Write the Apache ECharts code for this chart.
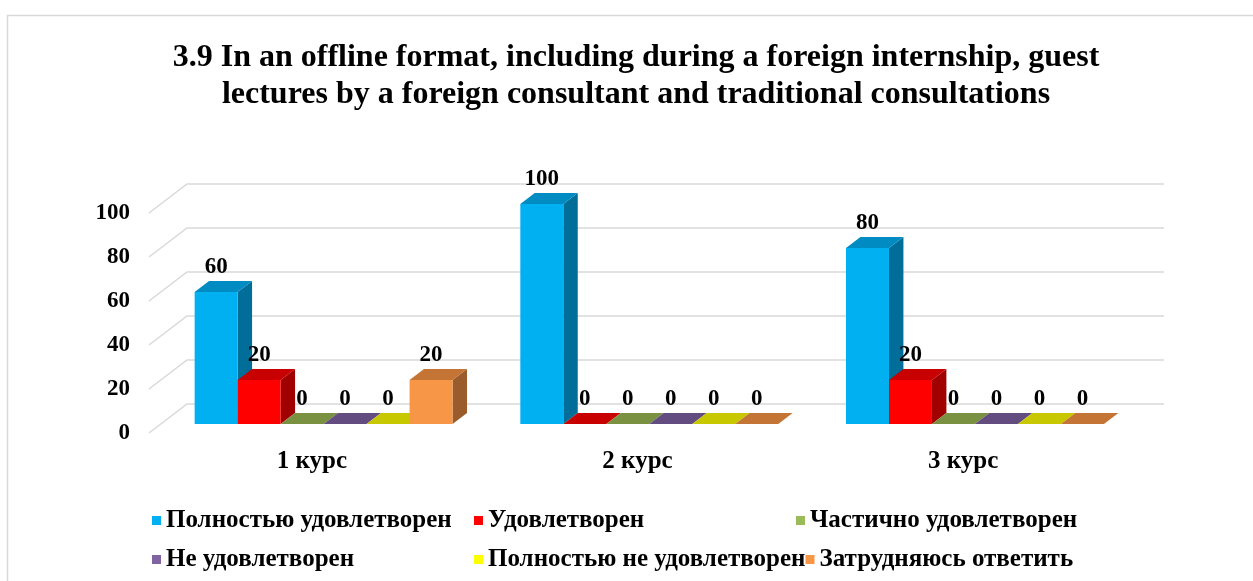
<!DOCTYPE html>
<html>
<head>
<meta charset="utf-8">
<script src="https://cdn.jsdelivr.net/npm/echarts@6/dist/echarts.min.js"></script>
<style>
  html, body { margin: 0; padding: 0; background: #fff; }
  #chart { width: 1253px; height: 581px; }
</style>
</head>
<body>
<div id="chart"></div>
<script>
const categories = ['1 курс', '2 курс', '3 курс'];
const yTicks = [0, 20, 40, 60, 80, 100];

const seriesNames = [
  'Полностью удовлетворен',
  'Удовлетворен',
  'Частично удовлетворен',
  'Не удовлетворен',
  'Полностью не удовлетворен',
  'Затрудняюсь ответить'
];
const fullySatisfied = [60, 100, 80];
const satisfied = [20, 0, 20];
const partlySatisfied = [0, 0, 0];
const notSatisfied = [0, 0, 0];
const fullyNotSatisfied = [0, 0, 0];
const hardToSay = [20, 0, 0];
const seriesValues = [fullySatisfied, satisfied, partlySatisfied, notSatisfied, fullyNotSatisfied, hardToSay];

const frontColors = ['#00B0F0', '#FF0000', '#9BBB59', '#8064A2', '#FFFF00', '#F79646'];
const topColors = ['#008BC2', '#C80000', '#7A9142', '#624C80', '#C8C800', '#C47434'];
const sideColors = ['#006E98', '#A00000', '#5E7033', '#4A3A62', '#9A9A00', '#9A5C2A'];

// depth of the 3d floor (back wall offset) and bar placement inside it
const DX = 38, DY = -29;
const FRONT = 0.31, DEPTH = 0.38;
const BAR_FRAC = 0.132;
const SERIF = '"Liberation Serif", "Times New Roman", serif';
const LABEL_FONT = 'bold 23px ' + SERIF;
const TITLE = '3.9 In an offline format, including during a foreign internship, guest\nlectures by a foreign consultant and traditional consultations';

const chart = echarts.init(document.getElementById('chart'));

function renderWalls(params, api) {
  const cs = params.coordSys;
  const y = api.coord([0, api.value(1)])[1];
  return {
    type: 'polyline',
    silent: true,
    shape: { points: [[cs.x, y], [cs.x + DX, y + DY], [cs.x + cs.width + DX, y + DY]] },
    style: { stroke: '#D9D9D9', lineWidth: 1.5, fill: null }
  };
}

function makeBarRenderer(idx) {
  return function (params, api) {
    const cat = api.value(0);
    const val = api.value(1);
    const base = api.coord([cat, 0]);
    const top = api.coord([cat, val]);
    const band = api.size([1, 0])[0];
    const w = band * BAR_FRAC;
    const x0 = base[0] - 3 * w + idx * w + DX * FRONT;
    const yb = base[1] + DY * FRONT;
    const yt = top[1] + DY * FRONT;
    const dx = DX * DEPTH, dy = DY * DEPTH;
    const children = [];
    if (yb - yt > 0.5) {
      children.push({
        type: 'polygon',
        shape: { points: [[x0 + w, yb], [x0 + w + dx, yb + dy], [x0 + w + dx, yt + dy], [x0 + w, yt]] },
        style: { fill: sideColors[idx] }
      });
    }
    children.push({
      type: 'polygon',
      shape: { points: [[x0, yt], [x0 + dx, yt + dy], [x0 + w + dx, yt + dy], [x0 + w, yt]] },
      style: { fill: topColors[idx] }
    });
    if (yb - yt > 0.5) {
      children.push({
        type: 'rect',
        shape: { x: x0, y: yt, width: w, height: yb - yt },
        style: { fill: frontColors[idx] }
      });
    }
    children.push({
      type: 'text',
      z2: 100,
      style: {
        text: String(val),
        x: x0 + w / 2,
        y: yt + dy - 2,
        align: 'center',
        verticalAlign: 'bottom',
        font: LABEL_FONT,
        fill: '#000'
      }
    });
    return { type: 'group', children: children };
  };
}

const series = [{
  type: 'custom',
  name: 'walls',
  silent: true,
  renderItem: renderWalls,
  data: yTicks.map(v => [0, v]),
  z: 1
}];
seriesNames.forEach((name, i) => {
  series.push({
    type: 'custom',
    name: name,
    renderItem: makeBarRenderer(i),
    itemStyle: { color: frontColors[i] },
    data: categories.map((c, k) => [k, seriesValues[i][k]]),
    z: 2
  });
});

chart.setOption({
  animation: false,
  graphic: [{
    type: 'rect',
    silent: true,
    shape: { x: 7.5, y: 15.5, width: 1300, height: 700 },
    style: { fill: null, stroke: '#D9D9D9', lineWidth: 1.5 }
  }, {
    type: 'text',
    silent: true,
    x: 636,
    y: 39,
    style: {
      text: TITLE,
      align: 'center',
      verticalAlign: 'top',
      font: 'bold 32px ' + SERIF,
      lineHeight: 37,
      fill: '#000'
    }
  }],
  legend: {
    data: seriesNames,
    left: 147,
    top: 496,
    width: 1090,
    itemGap: 0,
    itemWidth: 9,
    itemHeight: 9,
    icon: 'rect',
    textStyle: {
      fontFamily: SERIF,
      fontWeight: 'bold',
      fontSize: 25,
      color: '#000',
      width: 308,
      lineHeight: 39,
      overflow: 'none'
    }
  },
  grid: { left: 149, right: 127, top: 213, bottom: 148, containLabel: false },
  xAxis: {
    type: 'category',
    data: categories,
    axisLine: { show: false },
    axisTick: { show: false },
    axisLabel: {
      margin: 16,
      fontFamily: SERIF,
      fontWeight: 'bold',
      fontSize: 25,
      color: '#000'
    }
  },
  yAxis: {
    type: 'value',
    min: 0,
    max: 100,
    interval: 20,
    axisLine: { show: false },
    axisTick: { show: false },
    splitLine: { show: false },
    axisLabel: {
      margin: 19,
      fontFamily: SERIF,
      fontWeight: 'bold',
      fontSize: 23,
      color: '#000'
    }
  },
  series: series
});
</script>
</body>
</html>
